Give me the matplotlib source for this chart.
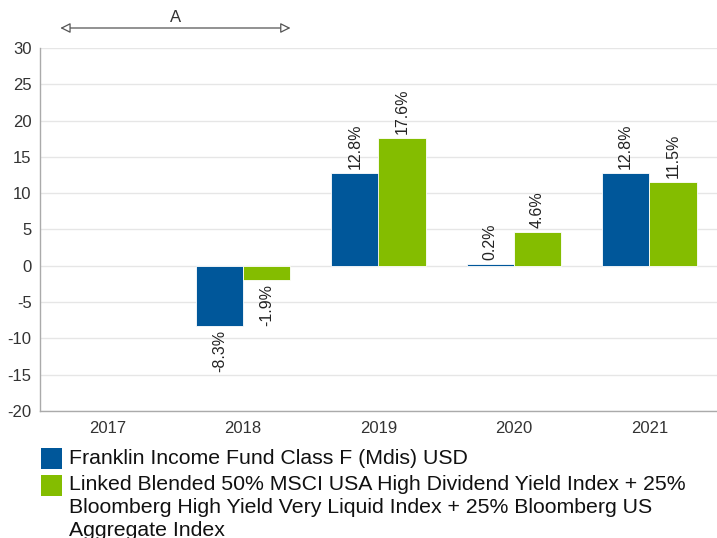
import matplotlib
matplotlib.use("Agg")
import matplotlib.pyplot as plt
from matplotlib.patches import FancyArrowPatch, Rectangle
from matplotlib.transforms import blended_transform_factory

plt.rcParams['font.family'] = ['Liberation Sans', 'DejaVu Sans']
plt.rcParams['axes.unicode_minus'] = False

years = ["2017", "2018", "2019", "2020", "2021"]
fund = [None, -8.3, 12.8, 0.2, 12.8]
bench = [None, -1.9, 17.6, 4.6, 11.5]
fund_label = ["Franklin Income Fund Class F (Mdis) USD"]
bench_label = ["Linked Blended 50% MSCI USA High Dividend Yield Index + 25%",
               "Bloomberg High Yield Very Liquid Index + 25% Bloomberg US",
               "Aggregate Index"]
yticks = [30, 25, 20, 15, 10, 5, 0, -5, -10, -15, -20]
bracket_label = "A"

blue = "#00579a"
green = "#84bd00"

W, H = 717, 538
fig = plt.figure(figsize=(W/100, H/100), dpi=100)
ax = fig.add_axes([40/W, 1-411/H, 1-40/W, (411-48)/H])

w = 0.35
x = list(range(len(years)))
for i in x:
    for val, off, col in ((fund[i], -w/2, blue), (bench[i], w/2, green)):
        if val is None:
            continue
        ax.bar(i + off, val, width=w, color=col, edgecolor="white", linewidth=0.6, zorder=3)
        if val >= 0:
            ax.annotate(f"{val:.1f}%", (i + off, val), xytext=(0, 3), textcoords="offset points",
                        rotation=90, ha="center", va="bottom", fontsize=11.5, color="#222222")
        else:
            ax.annotate(f"{val:.1f}%", (i + off, val), xytext=(0, -3), textcoords="offset points",
                        rotation=90, ha="center", va="top", fontsize=11.5, color="#222222")

ax.set_xlim(-0.5, len(years) - 0.5)
ax.set_ylim(min(yticks), max(yticks))
ax.set_yticks(yticks)
ax.set_xticks(x)
ax.set_xticklabels(years)
ax.tick_params(axis="both", length=0, labelsize=12, colors="#333333")
ax.tick_params(axis="x", pad=7)
ax.tick_params(axis="y", pad=6)
ax.grid(axis="y", color="#e6e6e6", linewidth=1, zorder=0)
ax.set_axisbelow(True)
for s in ("top", "right"):
    ax.spines[s].set_visible(False)
for s in ("left", "bottom"):
    ax.spines[s].set_color("#aaaaaa")
    ax.spines[s].set_linewidth(1)

# bracket arrow over 2017-2018
tr = blended_transform_factory(ax.transData, ax.transAxes)
y_arrow = ((H - 28) / H - (1 - 411/H)) / ((411 - 48) / H)
y_text = ((H - 17) / H - (1 - 411/H)) / ((411 - 48) / H)
arr = FancyArrowPatch((0 - w, y_arrow), (1 + w, y_arrow), transform=tr,
                      arrowstyle="<|-|>,head_length=6,head_width=3",
                      facecolor="white", edgecolor="#555555", linewidth=0.9,
                      clip_on=False, shrinkA=0, shrinkB=0)
ax.add_patch(arr)
ax.text(0.5, y_text, bracket_label, transform=tr, ha="center", va="center",
        fontsize=12, color="#333333", clip_on=False)

# manual legend
entries = [(blue, fund_label, 458), (green, bench_label, 485)]
for col, lines, yc in entries:
    fig.patches.append(Rectangle((41/W, 1-(yc+11)/H), 21/W, 21/H, transform=fig.transFigure,
                                 facecolor=col, edgecolor="none"))
    for k, line in enumerate(lines):
        fig.text(69/W, 1-(yc + 22.5*k)/H, line, ha="left", va="center",
                 fontsize=15.3, color="#111111")

fig.savefig("out.png", dpi=100)
